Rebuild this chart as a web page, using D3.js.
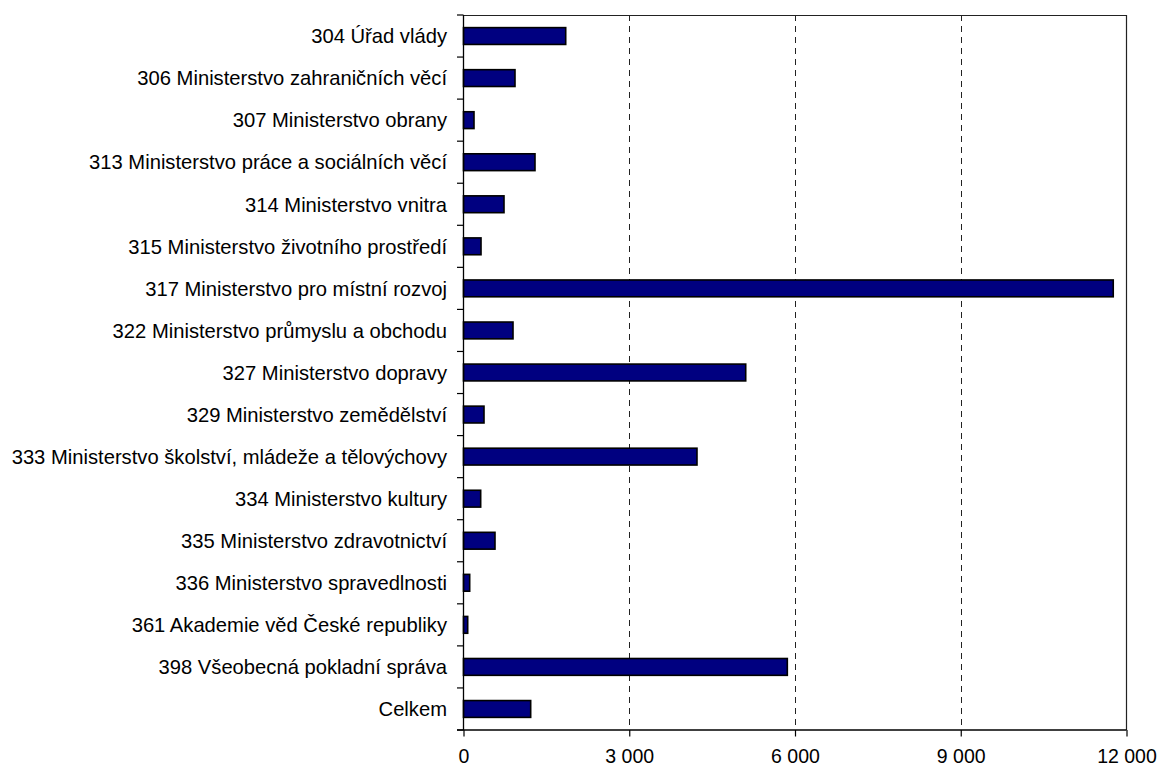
<!DOCTYPE html>
<html><head><meta charset="utf-8">
<script src="https://cdn.jsdelivr.net/npm/d3@7"></script>
<style>body{margin:0;background:#fff}svg{display:block}text{font-family:"Liberation Sans",Arial,sans-serif;fill:#000}</style>
</head><body><svg id="c" width="1162" height="767"></svg>
<script>
const categories = ["304 Úřad vlády","306 Ministerstvo zahraničních věcí","307 Ministerstvo obrany","313 Ministerstvo práce a sociálních věcí","314 Ministerstvo vnitra","315 Ministerstvo životního prostředí","317 Ministerstvo pro místní rozvoj","322 Ministerstvo průmyslu a obchodu","327 Ministerstvo dopravy","329 Ministerstvo zemědělství","333 Ministerstvo školství, mládeže a tělovýchovy","334 Ministerstvo kultury","335 Ministerstvo zdravotnictví","336 Ministerstvo spravedlnosti","361 Akademie věd České republiky","398 Všeobecná pokladní správa","Celkem"];
const values = [1850, 932, 190, 1294, 733, 317, 11760, 896, 5108, 371, 4226, 311, 570, 112, 76, 5861, 1216];
const xTicks = [0, 3000, 6000, 9000, 12000];
const xTickLabels = ["0","3 000","6 000","9 000","12 000"];

const svg = d3.select("#c");
const L = 463.5, R = 1126.5, T = 15, B = 730;
const x = d3.scaleLinear().domain([0, 12000]).range([L, R]);
const y = d3.scaleBand().domain(categories).range([T, B]).paddingInner(0.6).paddingOuter(0.3);
const bandStep = (B - T) / categories.length;

// gridlines
svg.append("g").selectAll("line").data(xTicks.filter(d => d > 0 && d < 12000)).join("line")
  .attr("x1", d => Math.round(x(d)) + 0.5).attr("x2", d => Math.round(x(d)) + 0.5)
  .attr("y1", T).attr("y2", B).attr("stroke", "#222").attr("stroke-width", 1).attr("stroke-dasharray", "6,5");

// border top & right
svg.append("path").attr("d", `M${L},${T + 0.5}H${R}V${B}`).attr("fill", "none").attr("stroke", "#222").attr("stroke-width", 1.2);

// bars
svg.append("g").selectAll("rect").data(values).join("rect")
  .attr("x", x(0)).attr("y", (d, i) => y(categories[i]))
  .attr("width", d => x(d) - x(0)).attr("height", y.bandwidth())
  .attr("fill", "#000080").attr("stroke", "#000").attr("stroke-width", 1.6);

// y axis
const yl = svg.append("g");
yl.append("line").attr("x1", L).attr("x2", L).attr("y1", T).attr("y2", B).attr("stroke", "#000").attr("stroke-width", 1.3);
yl.selectAll("line.t").data(d3.range(categories.length + 1)).join("line").attr("class","t")
  .attr("x1", L - 6.5).attr("x2", L).attr("y1", i => T + i * bandStep).attr("y2", i => T + i * bandStep)
  .attr("stroke", "#000").attr("stroke-width", 1.2);
yl.selectAll("text").data(categories).join("text")
  .attr("x", 447).attr("y", d => y(d) + y.bandwidth() / 2).attr("dy", "0.36em")
  .attr("text-anchor", "end").attr("font-size", 20.2).text(d => d);

// x axis
const xg = svg.append("g").attr("transform", `translate(0,${B})`)
  .call(d3.axisBottom(x).tickValues(xTicks).tickSize(6.5).tickPadding(11).tickFormat((d, i) => xTickLabels[i]));
xg.select(".domain").remove();
xg.append("line").attr("x1", L - 6.5).attr("x2", R).attr("y1", 0).attr("y2", 0).attr("stroke", "#000").attr("stroke-width", 1.3);
xg.selectAll(".tick line").attr("stroke", "#000").attr("stroke-width", 1.2);
xg.selectAll(".tick text").attr("y", 32.5).attr("dy", 0).attr("font-size", 19.5).attr("font-family", "Liberation Sans, Arial, sans-serif").attr("fill", "#000");
</script></body></html>
